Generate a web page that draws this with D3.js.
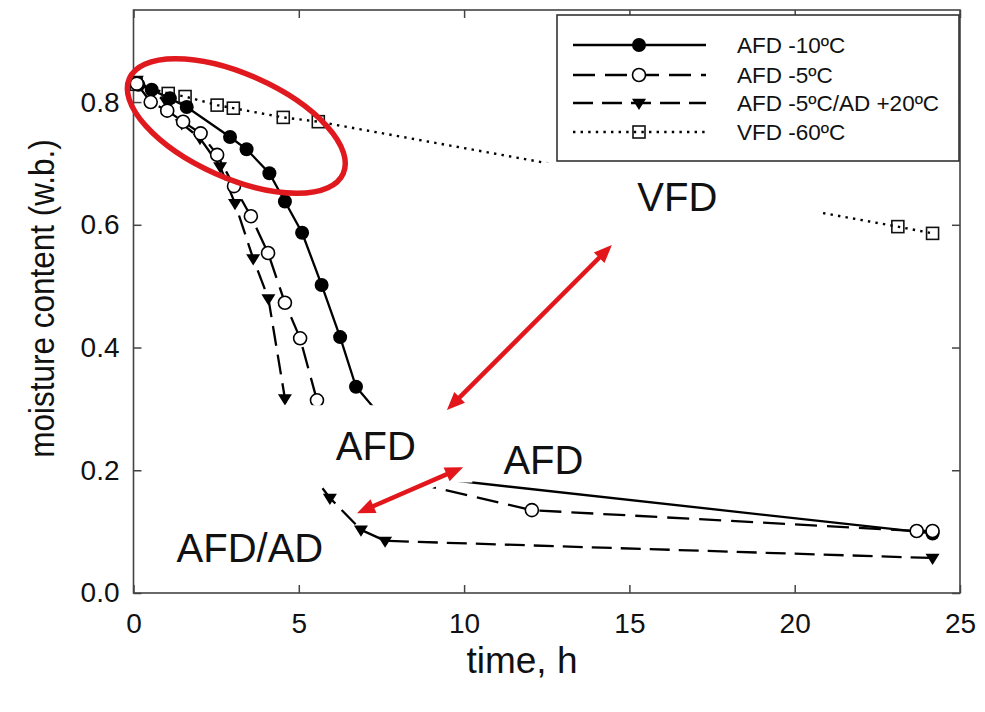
<!DOCTYPE html>
<html><head><meta charset="utf-8">
<script src="https://cdn.jsdelivr.net/npm/d3@7"></script>
<style>
body{margin:0;background:#fff}
svg{display:block}
text{font-family:"Liberation Sans",Arial,Helvetica,sans-serif;fill:#111}
</style>
</head><body>
<svg id="chart" width="985" height="712"></svg>
<script>
// Drying curves: time (h) and moisture content (wet basis)
const tAFD10 = [0.15, 0.55, 1.10, 1.61, 2.92, 3.42, 4.11, 4.58, 5.10, 5.69, 6.25, 6.73, 9.07, 24.17];
const mAFD10 = [0.828, 0.820, 0.806, 0.792, 0.743, 0.723, 0.684, 0.638, 0.587, 0.502, 0.417, 0.336, 0.187, 0.097];

const tAFD5 = [0.10, 0.52, 1.02, 1.50, 2.03, 2.53, 3.04, 3.55, 4.07, 4.58, 5.04, 5.55, 7.00, 12.05, 23.69, 24.17];
const mAFD5 = [0.830, 0.800, 0.786, 0.768, 0.749, 0.714, 0.663, 0.614, 0.554, 0.473, 0.415, 0.314, 0.198, 0.135, 0.101, 0.101];

const tAFDAD = [0.10, 1.00, 1.46, 2.01, 2.62, 3.07, 3.62, 4.08, 4.58, 4.80, 5.94, 6.88, 7.61, 24.17];
const mAFDAD = [0.836, 0.800, 0.765, 0.741, 0.695, 0.635, 0.545, 0.480, 0.317, 0.235, 0.155, 0.103, 0.085, 0.057];

const tVFD = [0.08, 1.05, 1.56, 2.53, 3.02, 4.53, 5.59, 23.12, 24.17];
const mVFD = [0.829, 0.814, 0.809, 0.795, 0.790, 0.775, 0.768, 0.597, 0.586];

const seriesNames = ["AFD -10ºC", "AFD -5ºC", "AFD -5ºC/AD +20ºC", "VFD -60ºC"];

const xTicks = [0, 5, 10, 15, 20, 25];
const yTicks = [0.0, 0.2, 0.4, 0.6, 0.8];

// Annotation labels (data coordinates)
const annLabels = ["VFD", "AFD", "AFD", "AFD/AD"];
const annX = [16.45, 7.33, 12.40, 3.52];
const annY = [0.645, 0.240, 0.217, 0.073];

// Double-headed arrows: start and end (data coordinates)
const arrowX1 = [9.48, 6.76];
const arrowY1 = [0.298, 0.130];
const arrowX2 = [14.47, 9.97];
const arrowY2 = [0.567, 0.205];

// Highlight ellipse centre (data coordinates)
const ellipseCx = 3.11, ellipseCy = 0.761;

const svg = d3.select("#chart");
const x = d3.scaleLinear().domain([0, 25]).range([133.5, 960]);
const y = d3.scaleLinear().domain([0, 0.95]).range([593, 10]);

const zip = (t, m) => t.map((d, i) => ({t: d, m: m[i]}));
const series = [
  {name: seriesNames[0], data: zip(tAFD10, mAFD10), dash: null, marker: "fcircle"},
  {name: seriesNames[1], data: zip(tAFD5, mAFD5), dash: "22,10", marker: "ocircle"},
  {name: seriesNames[2], data: zip(tAFDAD, mAFDAD), dash: "20,9", marker: "triangle"},
  {name: seriesNames[3], data: zip(tVFD, mVFD), dash: "2.4,5.2", marker: "square"}
];

const line = d3.line().x(d => x(d.t)).y(d => y(d.m));

// axes with inward ticks on all sides
const ax = svg.append("g").attr("class", "axes");
ax.append("g").attr("transform", `translate(0,${y(0)})`)
  .call(d3.axisBottom(x).tickValues(xTicks).tickSize(-8).tickPadding(20).tickFormat(d3.format("d")));
ax.append("g").attr("transform", `translate(0,${y(0.95)})`)
  .call(d3.axisTop(x).tickValues(xTicks).tickSize(-8).tickFormat(""));
ax.append("g").attr("transform", `translate(${x(0)},0)`)
  .call(d3.axisLeft(y).tickValues(yTicks).tickSize(-8).tickPadding(14).tickFormat(d3.format(".1f")));
ax.append("g").attr("transform", `translate(${x(25)},0)`)
  .call(d3.axisRight(y).tickValues(yTicks).tickSize(-8).tickFormat(""));
ax.selectAll(".domain").remove();
ax.selectAll(".tick line").attr("stroke", "#444").attr("stroke-width", 1.5);
ax.selectAll(".tick text").attr("font-size", 28).attr("fill", "#222")
  .attr("font-family", "Liberation Sans, Arial, sans-serif");

svg.append("rect")
  .attr("x", x(0)).attr("y", y(0.95))
  .attr("width", x(25) - x(0)).attr("height", y(0) - y(0.95))
  .attr("fill", "none").attr("stroke", "#444").attr("stroke-width", 1.6);

// axis titles
svg.append("text").attr("x", 522).attr("y", 673)
  .attr("text-anchor", "middle").attr("font-size", 37).text("time, h");
svg.append("text")
  .attr("transform", `translate(54,${y(0.48)}) rotate(-90) scale(0.9,1)`)
  .attr("text-anchor", "middle").attr("font-size", 35).text("moisture content (w.b.)");

// marker drawing
function drawMarker(g, type, cx, cy) {
  if (type === "fcircle") {
    g.append("circle").attr("cx", cx).attr("cy", cy).attr("r", 7).attr("fill", "#000");
  } else if (type === "ocircle") {
    g.append("circle").attr("cx", cx).attr("cy", cy).attr("r", 6.5)
      .attr("fill", "#fff").attr("stroke", "#000").attr("stroke-width", 1.6);
  } else if (type === "triangle") {
    const s = 7;
    g.append("path").attr("d", `M${cx - s},${cy - s * 0.6}L${cx + s},${cy - s * 0.6}L${cx},${cy + s}Z`)
      .attr("fill", "#000");
  } else if (type === "square") {
    g.append("rect").attr("x", cx - 6).attr("y", cy - 6).attr("width", 12).attr("height", 12)
      .attr("fill", "none").attr("stroke", "#111").attr("stroke-width", 1.6);
  }
}

const plot = svg.append("g");
series.forEach(s => {
  plot.append("path").datum(s.data)
    .attr("d", line).attr("fill", "none").attr("stroke", "#000")
    .attr("stroke-width", s.marker === "square" ? 2.4 : 2.3)
    .attr("stroke-dasharray", s.dash);
});
// markers drawn in reverse order so the filled circles sit lowest
[3, 0, 2, 1].forEach(i => {
  const s = series[i];
  const g = plot.append("g");
  s.data.forEach(d => drawMarker(g, s.marker, x(d.t), y(d.m)));
});

// label backgrounds (white boxes that mask the curves behind the annotations)
const bgX0 = [12.38, 4.37, 10.72];
const bgX1 = [20.71, 10.25, 13.96];
const bgY0 = [0.702, 0.306, 0.2525];
const bgY1 = [0.604, 0.180, 0.187];
bgX0.forEach((v, i) => {
  svg.append("rect").attr("x", x(v)).attr("y", y(bgY0[i]))
    .attr("width", x(bgX1[i]) - x(v)).attr("height", y(bgY1[i]) - y(bgY0[i]))
    .attr("fill", "#fff");
});

annLabels.forEach((txt, i) => {
  svg.append("text").attr("x", x(annX[i])).attr("y", y(annY[i]))
    .attr("text-anchor", "middle").attr("dominant-baseline", "central")
    .attr("font-size", 40).attr("fill", "#111").text(txt);
});

// red highlight ellipse
svg.append("ellipse")
  .attr("transform", `translate(${x(ellipseCx)},${y(ellipseCy)}) rotate(24)`)
  .attr("rx", 117).attr("ry", 52)
  .attr("fill", "none").attr("stroke", "#e0191e").attr("stroke-width", 5.5);

// double-headed red arrows
const red = "#e3161b";
arrowX1.forEach((v, i) => {
  const x1 = x(v), y1 = y(arrowY1[i]), x2 = x(arrowX2[i]), y2 = y(arrowY2[i]);
  const ang = Math.atan2(y2 - y1, x2 - x1);
  const hl = 18, hw = 7.5;
  const ux = Math.cos(ang), uy = Math.sin(ang);
  svg.append("line").attr("x1", x1).attr("y1", y1).attr("x2", x2).attr("y2", y2)
    .attr("stroke", "#fff").attr("stroke-width", 14);
  svg.append("line")
    .attr("x1", x1 + ux * hl * 0.8).attr("y1", y1 + uy * hl * 0.8)
    .attr("x2", x2 - ux * hl * 0.8).attr("y2", y2 - uy * hl * 0.8)
    .attr("stroke", red).attr("stroke-width", 4.5);
  const head = (px, py, dx, dy) => {
    const bx = px - dx * hl, by = py - dy * hl;
    return `M${px},${py}L${bx - dy * hw},${by + dx * hw}L${bx + dy * hw},${by - dx * hw}Z`;
  };
  svg.append("path").attr("d", head(x2, y2, ux, uy)).attr("fill", red);
  svg.append("path").attr("d", head(x1, y1, -ux, -uy)).attr("fill", red);
});

// legend
const lg = svg.append("g");
lg.append("rect").attr("x", 557).attr("y", 15).attr("width", 402).attr("height", 146)
  .attr("fill", "#fff").attr("stroke", "#333").attr("stroke-width", 1.6);
const rowY = [45, 75, 103, 132];
series.forEach((s, i) => {
  lg.append("line").attr("x1", 573).attr("x2", 706).attr("y1", rowY[i]).attr("y2", rowY[i])
    .attr("stroke", "#000").attr("stroke-width", 2.3).attr("stroke-dasharray", s.dash);
  drawMarker(lg, s.marker, 639, rowY[i]);
  lg.append("text").attr("x", 737).attr("y", rowY[i]).attr("dominant-baseline", "central")
    .attr("font-size", 22.5).attr("fill", "#222").text(s.name);
});
</script>
</body></html>
